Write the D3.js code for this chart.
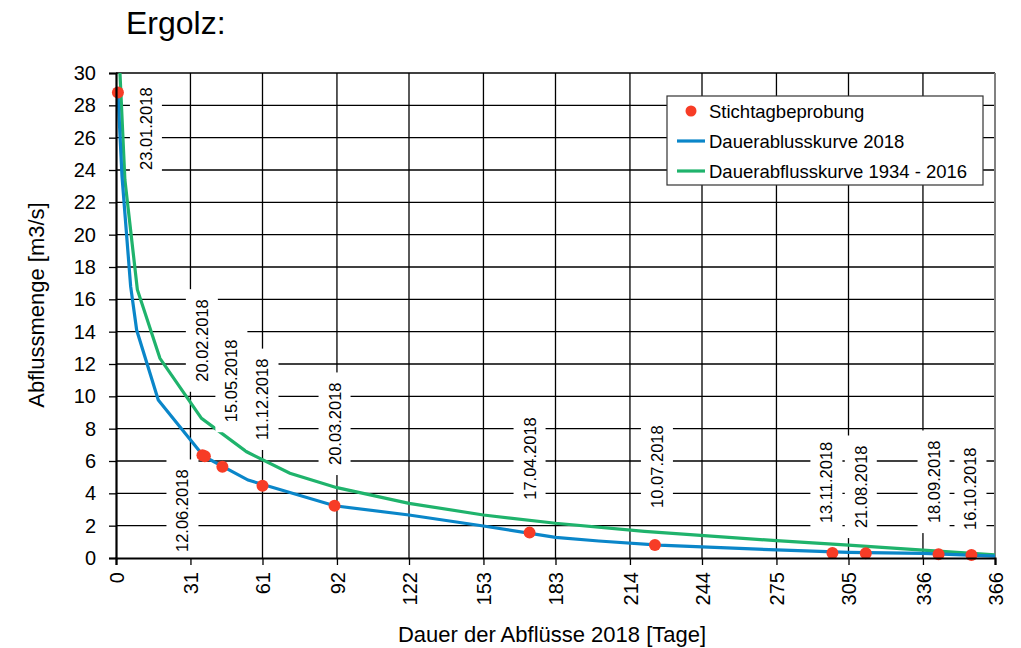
<!DOCTYPE html>
<html>
<head>
<meta charset="utf-8">
<script src="https://cdn.jsdelivr.net/npm/d3@7"></script>
<style>
body{margin:0;background:#fff}
text{font-family:"Liberation Sans",Arial,sans-serif;fill:#000}
</style>
</head>
<body>
<svg id="chart" width="1021" height="648"></svg>
<script>
// Ergolz: Dauerabflusskurven mit Stichtagbeprobungen

var xTicks=[0,31,61,92,122,153,183,214,244,275,305,336,366]
var yTicks=[0,2,4,6,8,10,12,14,16,18,20,22,24,26,28,30]

// Dauerabflusskurve 2018 [Tag, m3/s]
var curveDays2018=[0.8,2.5,6.1,8.6,17.6,36.5,55,91,122,153,183,201,226,275,305,336,366]
var curveFlow2018=[28.8,23.6,16.8,14.1,9.77,6.3,4.82,3.23,2.66,1.98,1.28,1.05,0.8,0.5,0.35,0.29,0.12]

// Dauerabflusskurve 1934 - 2016
var curveDaysLong=[0,3.7,8.9,18.3,35.6,54.4,72.4,92,122,153,183,220,275,305,336,366]
var curveFlowLong=[35.3,23.4,16.6,12.35,8.64,6.57,5.24,4.35,3.38,2.66,2.15,1.65,1.07,0.8,0.49,0.19]

// Stichtagbeprobung
var sampleDates=["23.01.2018","12.06.2018","20.02.2018","15.05.2018","11.12.2018","20.03.2018","17.04.2018","10.07.2018","13.11.2018","21.08.2018","18.09.2018","16.10.2018"]
var sampleDays=[0.8,36,37,44.3,61,91,172.2,224.4,298.3,312.2,342.5,356.2]
var sampleFlow=[28.8,6.35,6.3,5.65,4.47,3.23,1.57,0.8,0.31,0.3,0.23,0.18]

// label placement: sideways shift in px, flow level where the text starts
var labelShift=[28,-20,-3,9,0,0,0,2,-6,-5,-5,-1]
var labelBase=[24.0,0.37,10.9,8.4,7.3,5.75,3.6,3.1,2.16,1.85,2.16,1.73]

var margin={top:73,left:116,right:26,bottom:90}
var width=1021-margin.left-margin.right,
    height=648-margin.top-margin.bottom

var svg=d3.select("#chart")
var g=svg.append("g").attr("transform","translate("+margin.left+","+margin.top+")")

var x=d3.scaleLinear().domain([0,366]).range([0,width])
var y=d3.scaleLinear().domain([0,30]).range([height,0])

svg.append("defs").append("clipPath").attr("id","plotclip")
  .append("rect").attr("x",0).attr("y",0).attr("width",width).attr("height",height)

// title
svg.append("text").attr("x",126).attr("y",34).style("font-size","32px").text("Ergolz:")

// grid
g.selectAll(".hgrid").data(yTicks.filter(d=>d>0)).join("line")
  .attr("x1",0).attr("x2",width)
  .attr("y1",d=>y(d)).attr("y2",d=>y(d))
  .attr("stroke","#000").attr("stroke-width",1.3)
g.selectAll(".vgrid").data(xTicks.filter(d=>d>0)).join("line")
  .attr("x1",d=>x(d)).attr("x2",d=>x(d))
  .attr("y1",0).attr("y2",height)
  .attr("stroke",d=>d==366?"#808080":"#000").attr("stroke-width",d=>d==366?2:1.3)

// curves
var line=d3.line().x(d=>x(d[0])).y(d=>y(d[1]))
var plot=g.append("g").attr("clip-path","url(#plotclip)")
plot.append("path").datum(d3.zip(curveDaysLong,curveFlowLong))
  .attr("d",line).attr("fill","none").attr("stroke","#1fb36c").attr("stroke-width",3.2)
plot.append("path").datum(d3.zip(curveDays2018,curveFlow2018))
  .attr("d",line).attr("fill","none").attr("stroke","#0a86c9").attr("stroke-width",3.2)

// samples
g.selectAll(".dot").data(sampleDays).join("circle")
  .attr("cx",d=>x(d)).attr("cy",(d,i)=>y(sampleFlow[i])).attr("r",6)
  .attr("fill","#f73c26")

// date labels with white boxes
var lab=g.selectAll(".lab").data(sampleDates).join("g")
  .attr("transform",(d,i)=>"translate("+(x(sampleDays[i])+labelShift[i])+","+y(labelBase[i])+") rotate(-90)")
lab.append("rect").attr("fill","#fff")
lab.append("text").attr("x",0).attr("dy","0.36em").style("font-size","16.5px").text(d=>d)
lab.each(function(){
  var t=d3.select(this).select("text").node().getComputedTextLength()
  d3.select(this).select("rect").attr("x",-10).attr("y",-16).attr("width",t+20).attr("height",32)
})

// axes
var yAxis=g.append("g").call(d3.axisLeft(y).tickValues(yTicks).tickSize(7).tickPadding(13))
yAxis.select(".domain").attr("stroke","#000").attr("stroke-width",2.2)
yAxis.selectAll(".tick line").attr("stroke","#000").attr("stroke-width",1.3)
yAxis.selectAll("text").style("font-size","20px").attr("fill","#000")

var xAxis=g.append("g").attr("transform","translate(0,"+height+")")
  .call(d3.axisBottom(x).tickValues(xTicks).tickSize(7))
xAxis.select(".domain").attr("stroke","#000").attr("stroke-width",2.2)
xAxis.selectAll(".tick line").attr("stroke","#000").attr("stroke-width",1.3)
xAxis.selectAll("text").style("font-size","20px").attr("fill","#000")
  .attr("transform","rotate(-90)").attr("text-anchor","end")
  .attr("x",-14).attr("y",0).attr("dy","0.36em")

// axis titles
svg.append("text").attr("x",552).attr("y",642).attr("text-anchor","middle")
  .style("font-size","22px").text("Dauer der Abflüsse 2018 [Tage]")
svg.append("text").attr("transform","translate(44,305) rotate(-90)").attr("text-anchor","middle")
  .style("font-size","22px").text("Abflussmenge [m3/s]")

// legend
var leg=svg.append("g").attr("transform","translate(667,96)")
leg.append("rect").attr("width",316).attr("height",89).attr("fill","#fff").attr("stroke","#333").attr("stroke-width",1.2)
var legNames=["Stichtagbeprobung","Dauerablusskurve 2018","Dauerabflusskurve 1934 - 2016"]
var legColors=["#f73c26","#0a86c9","#1fb36c"]
legNames.forEach(function(n,i){
  var row=leg.append("g").attr("transform","translate(0,"+(15+i*30)+")")
  if(i==0){
    row.append("circle").attr("cx",24).attr("cy",0).attr("r",5.5).attr("fill",legColors[i])
  }else{
    row.append("line").attr("x1",10).attr("x2",38).attr("y1",0).attr("y2",0)
      .attr("stroke",legColors[i]).attr("stroke-width",3.2)
  }
  row.append("text").attr("x",42).attr("dy","0.36em").style("font-size","18.5px").text(n)
})
</script>
</body>
</html>
